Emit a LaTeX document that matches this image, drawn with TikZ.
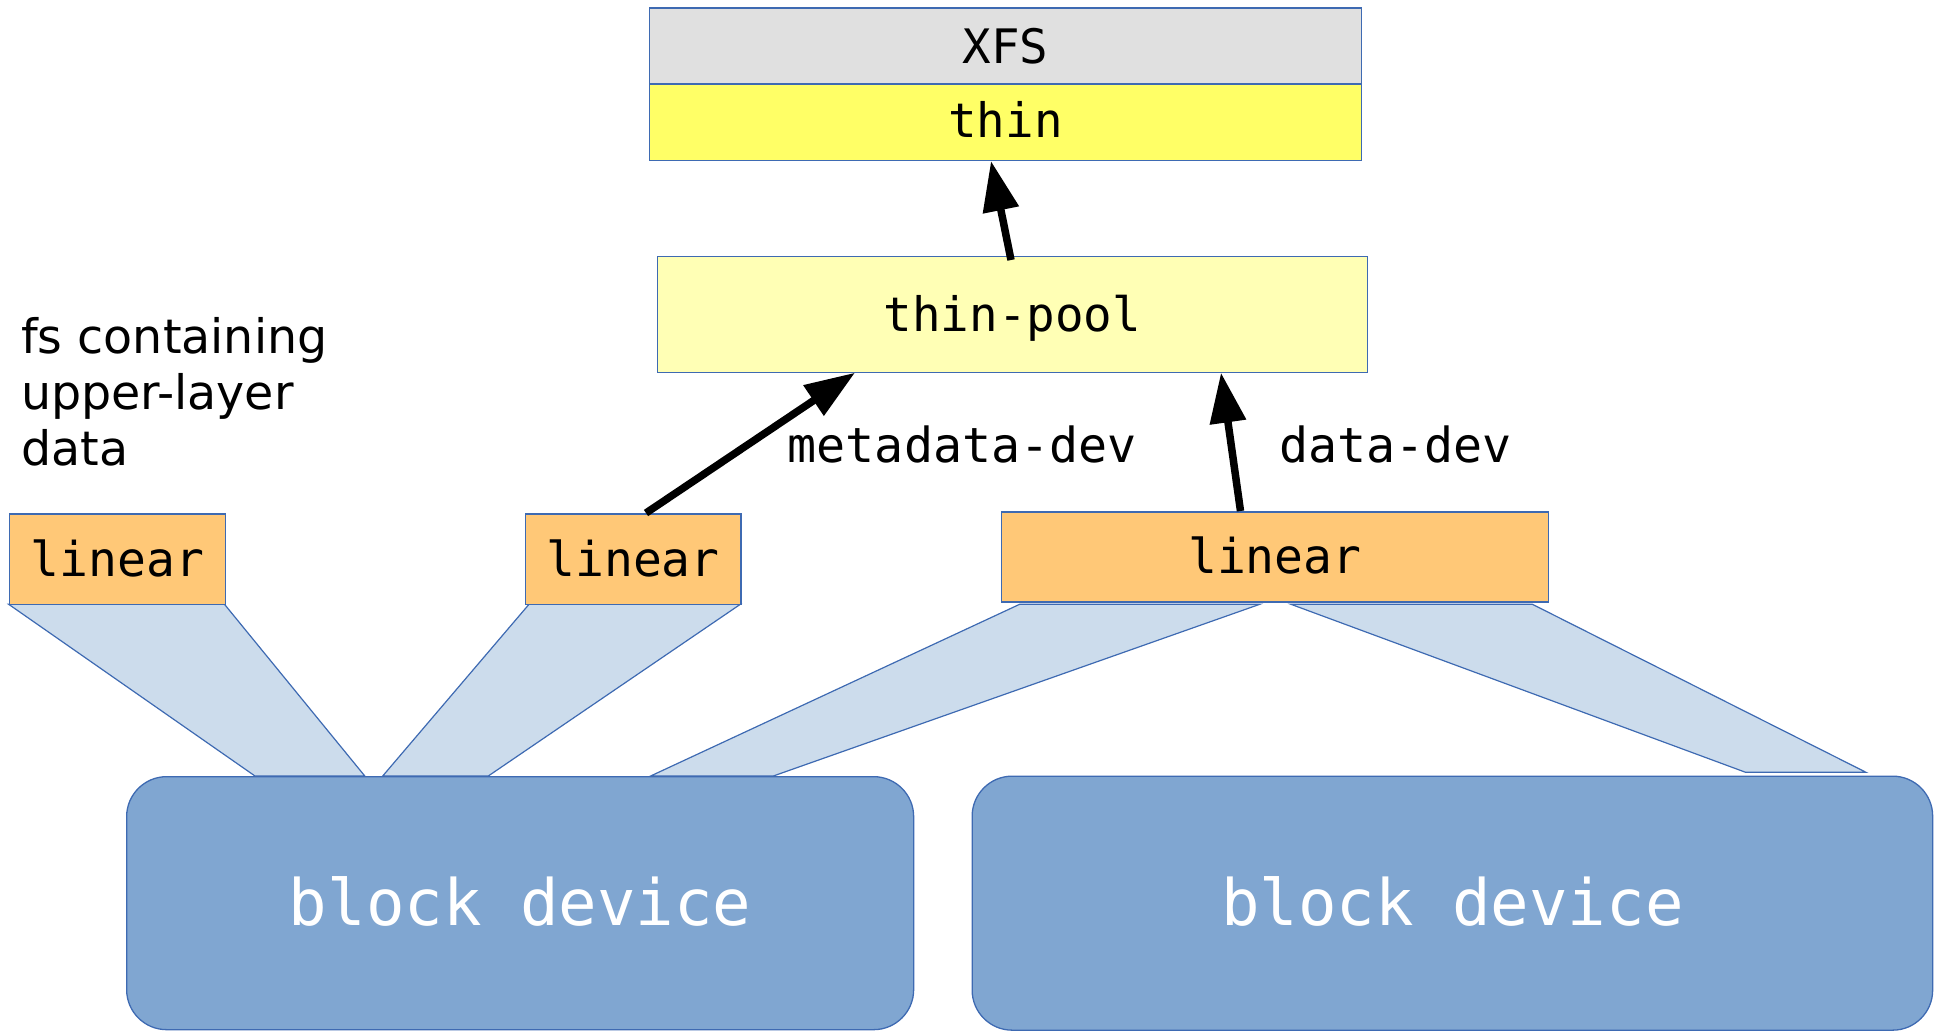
\documentclass[tikz,border=0pt]{standalone}
\usepackage{fontspec}
\setmainfont{DejaVu Sans}
\newfontfamily\dvmono{DejaVu Sans Mono}
\usetikzlibrary{arrows.meta}

\definecolor{edge}{HTML}{3E6AB2}
\definecolor{xfsgray}{HTML}{E0E0E0}
\definecolor{thinyellow}{HTML}{FFFF66}
\definecolor{poolyellow}{HTML}{FFFFB5}
\definecolor{linorange}{HTML}{FFC877}
\definecolor{bandblue}{HTML}{CCDCEC}
\definecolor{devblue}{HTML}{80A6D1}

\newcommand\monosz[1]{\dvmono\fontsize{#1}{#1}\selectfont}

\begin{document}
\begin{tikzpicture}[x=1pt,y=-1pt,
  box/.style={draw=edge, line width=1.3pt, inner sep=0pt, anchor=north west,
    text depth=0pt, font=\monosz{47.5}, text height=34pt},
  linbox/.style={box, fill=linorange, font=\monosz{48}, text height=34pt},
  devbox/.style={box, fill=devblue, rounded corners=40pt, text=white,
    font=\monosz{64}, text height=45pt},
  band/.style={fill=bandblue, draw=edge, line width=1.2pt, line join=miter},
  arr/.style={line width=7.5pt, -{Triangle[length=50pt,width=35pt]}},
  tag/.style={anchor=base west, inner sep=0pt, font=\monosz{48.3}}]

\useasboundingbox (0,0) rectangle (1943,1031);

% mapping bands from the linear targets down to the disks
\draw[band] (8.7,604.3) -- (224.5,604.3) -- (364.8,776) -- (255,776) -- cycle;
\draw[band] (529,604.3) -- (740.3,604.3) -- (488.3,776) -- (382.7,776) -- cycle;
\draw[band] (1019.6,604.3) -- (1259.7,604.3) -- (773.3,776) -- (650.6,776) -- cycle;
\draw[band] (1291,604.3) -- (1532.4,604.3) -- (1866,772.3) -- (1745.6,772.3) -- cycle;

% physical disks
\node[devbox, minimum width=787pt, minimum height=253pt] (dev1) at (126,776) {block device};
\node[devbox, minimum width=960.5pt, minimum height=254pt] (dev2) at (971.5,775.5) {block device};

% device-mapper stack
\node[box, fill=xfsgray, minimum width=711.5pt, minimum height=76pt, text height=36pt] (xfs) at (649,7.3) {XFS};
\node[box, fill=thinyellow, minimum width=711.5pt, minimum height=76.7pt, text height=31pt] (thin) at (649,83.3) {thin};
\node[box, fill=poolyellow, minimum width=710.5pt, minimum height=116pt, text height=33.4pt] (pool) at (656.5,256) {thin-pool};

\node[linbox, minimum width=215.8pt, minimum height=90.7pt] (lin1) at (8.7,513.3) {linear};
\node[linbox, minimum width=215.8pt, minimum height=90.7pt] (lin2) at (524.5,513.3) {linear};
\node[linbox, minimum width=546.7pt, minimum height=90pt, text height=32.8pt] (lin3) at (1000.8,511.3) {linear};

% side note (base anchor sits on the last line)
\node[anchor=base west, inner sep=0pt, align=left,
  font=\fontsize{47.5}{55.8}\selectfont] (note) at (21,465) {fs containing\\upper-layer\\data};

% connector labels
\node[tag] (metalbl) at (787.5,462.7) {metadata-dev};
\node[tag] (datalbl) at (1279,462.7) {data-dev};

% connector end points
\coordinate (poolout) at (1011,260);
\coordinate (thinin) at (991,161);
\coordinate (metaout) at (646,513);
\coordinate (metain) at (855,372.7);
\coordinate (dataout) at (1240.5,511);
\coordinate (datain) at (1221,372.7);

\draw[arr] (poolout) -- (thinin);
\draw[arr] (metaout) -- (metain);
\draw[arr] (dataout) -- (datain);
\end{tikzpicture}
\end{document}
